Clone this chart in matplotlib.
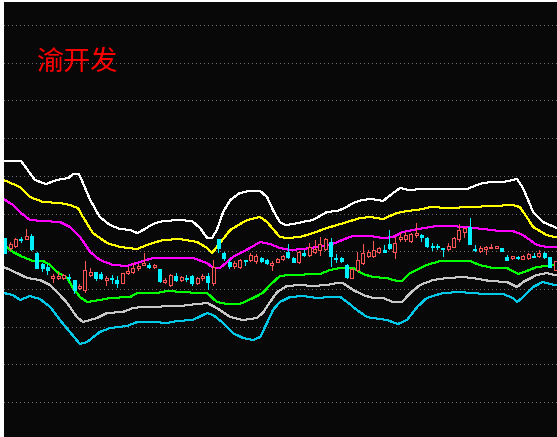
import matplotlib
matplotlib.use("Agg")
import matplotlib.pyplot as plt
import numpy as np

title = "渝开发"

# daily candles: open, high, low, close
opens = [5.62, 5.52, 5.54, 5.61, 5.61, 5.64, 5.47, 5.36, 5.33, 5.22,
         5.22, 5.22, 5.23, 5.20, 5.12, 5.10, 5.25, 5.28, 5.26, 5.20,
         5.22, 5.20, 5.17, 5.27, 5.28, 5.32, 5.35, 5.35, 5.33, 5.31,
         5.18, 5.15, 5.24, 5.20, 5.22, 5.24, 5.17, 5.22, 5.24, 5.17,
         5.61, 5.47, 5.38, 5.34, 5.33, 5.40, 5.40, 5.39, 5.42, 5.40,
         5.35, 5.38, 5.41, 5.48, 5.42, 5.38, 5.47, 5.45, 5.48, 5.50,
         5.51, 5.58, 5.42, 5.42, 5.35, 5.22, 5.30, 5.37, 5.44, 5.44,
         5.48, 5.50, 5.56, 5.48, 5.61, 5.61, 5.59, 5.65, 5.65, 5.62,
         5.54, 5.54, 5.52, 5.51, 5.53, 5.61, 5.68, 5.73, 5.51, 5.49,
         5.51, 5.52, 5.52, 5.52, 5.43, 5.42, 5.43, 5.41, 5.42, 5.44,
         5.44, 5.47, 5.43, 5.30]
highs = [5.62, 5.58, 5.62, 5.63, 5.71, 5.66, 5.48, 5.37, 5.36, 5.26,
         5.28, 5.26, 5.26, 5.20, 5.16, 5.39, 5.32, 5.28, 5.28, 5.24,
         5.25, 5.24, 5.27, 5.33, 5.37, 5.36, 5.47, 5.37, 5.36, 5.31,
         5.22, 5.26, 5.27, 5.24, 5.25, 5.25, 5.23, 5.26, 5.27, 5.40,
         5.61, 5.48, 5.40, 5.39, 5.41, 5.40, 5.47, 5.46, 5.43, 5.41,
         5.39, 5.42, 5.45, 5.56, 5.43, 5.49, 5.50, 5.57, 5.60, 5.63,
         5.62, 5.62, 5.46, 5.43, 5.36, 5.32, 5.48, 5.56, 5.50, 5.59,
         5.53, 5.55, 5.70, 5.63, 5.67, 5.68, 5.67, 5.77, 5.66, 5.63,
         5.57, 5.56, 5.52, 5.57, 5.63, 5.76, 5.72, 5.82, 5.55, 5.54,
         5.54, 5.56, 5.54, 5.52, 5.45, 5.44, 5.44, 5.45, 5.47, 5.47,
         5.50, 5.48, 5.43, 5.39]
lows = [5.47, 5.50, 5.53, 5.58, 5.61, 5.50, 5.32, 5.29, 5.26, 5.18,
        5.21, 5.21, 5.20, 5.07, 5.11, 5.08, 5.24, 5.20, 5.21, 5.15,
        5.17, 5.13, 5.17, 5.26, 5.27, 5.30, 5.35, 5.32, 5.32, 5.18,
        5.17, 5.14, 5.19, 5.19, 5.19, 5.15, 5.16, 5.20, 5.11, 5.15,
        5.48, 5.40, 5.32, 5.32, 5.32, 5.35, 5.39, 5.37, 5.38, 5.36,
        5.30, 5.38, 5.40, 5.42, 5.38, 5.37, 5.44, 5.44, 5.47, 5.45,
        5.50, 5.34, 5.38, 5.38, 5.22, 5.22, 5.29, 5.36, 5.43, 5.43,
        5.47, 5.48, 5.51, 5.42, 5.59, 5.59, 5.58, 5.63, 5.59, 5.53,
        5.50, 5.51, 5.44, 5.50, 5.53, 5.59, 5.63, 5.56, 5.49, 5.48,
        5.46, 5.52, 5.52, 5.49, 5.40, 5.41, 5.41, 5.41, 5.41, 5.43,
        5.43, 5.42, 5.33, 5.30]
closes = [5.47, 5.56, 5.61, 5.60, 5.64, 5.51, 5.32, 5.32, 5.30, 5.24,
          5.24, 5.25, 5.22, 5.10, 5.14, 5.30, 5.28, 5.22, 5.22, 5.22,
          5.21, 5.17, 5.27, 5.29, 5.32, 5.34, 5.37, 5.33, 5.35, 5.19,
          5.20, 5.25, 5.20, 5.23, 5.21, 5.17, 5.22, 5.24, 5.18, 5.33,
          5.52, 5.42, 5.34, 5.37, 5.40, 5.39, 5.45, 5.44, 5.39, 5.37,
          5.37, 5.41, 5.44, 5.43, 5.38, 5.48, 5.45, 5.53, 5.51, 5.56,
          5.61, 5.44, 5.41, 5.39, 5.23, 5.31, 5.40, 5.47, 5.48, 5.50,
          5.52, 5.48, 5.52, 5.57, 5.63, 5.65, 5.66, 5.67, 5.63, 5.54,
          5.53, 5.53, 5.51, 5.54, 5.62, 5.70, 5.72, 5.56, 5.50, 5.52,
          5.53, 5.53, 5.54, 5.49, 5.40, 5.44, 5.42, 5.44, 5.46, 5.43,
          5.47, 5.43, 5.33, 5.39]

# band lines, sampled along the bar index
white_x = [-0.2, 3.05, 5.67, 7.7, 9.8, 11.9, 12.8, 13.9, 14.65, 16.0, 17.8, 19.7, 21.6,
           23.45, 24.8, 25.9, 27.75, 29.6, 32.8, 35.05, 36.55, 37.9, 38.8, 39.7, 40.9,
           42.2, 44.0, 45.7, 47.8, 49.1, 50.2, 51.5, 52.5, 54.0, 56.6, 57.7, 60.3, 62.2,
           63.7, 65.2, 66.9, 68.7, 70.8, 72.7, 74.0, 75.5, 78.3, 84.7, 86.5, 88.4, 89.5,
           91.4, 93.3, 95.9, 97.0, 98.9, 100.7, 102.9, 104.5]
white_y = [6.39, 6.39, 6.20, 6.16, 6.20, 6.22, 6.26, 6.26, 6.17, 6.00, 5.83, 5.75, 5.71,
           5.70, 5.67, 5.70, 5.76, 5.79, 5.80, 5.79, 5.72, 5.62, 5.62, 5.70, 5.88,
           6.00, 6.07, 6.09, 6.09, 6.03, 5.90, 5.78, 5.75, 5.76, 5.79, 5.80, 5.88, 5.89,
           5.92, 5.97, 6.00, 6.01, 5.99, 6.07, 6.12, 6.10, 6.11, 6.11, 6.11, 6.15, 6.17,
           6.18, 6.18, 6.21, 6.12, 5.88, 5.78, 5.73, 5.70]

yellow_x = [-0.2, 2.86, 4.7, 7.2, 10.35, 12.2, 13.7, 14.65, 16.5, 19.15, 21.6, 24.8,
            26.6, 29.6, 32.8, 36.0, 37.9, 38.8, 39.7, 42.2, 45.35, 47.8, 49.1, 51.5,
            52.8, 55.3, 57.7, 60.3, 64.1, 66.5, 68.4, 70.8, 73.4, 75.3, 78.3, 79.6,
            83.3, 87.1, 91.4, 95.1, 96.4, 97.7, 98.9, 101.4, 102.9, 104.5]
yellow_y = [6.20, 6.13, 6.03, 5.98, 5.97, 5.95, 5.92, 5.83, 5.67, 5.57, 5.53, 5.51,
            5.55, 5.60, 5.61, 5.58, 5.52, 5.47, 5.53, 5.70, 5.80, 5.83, 5.78, 5.63,
            5.62, 5.63, 5.67, 5.72, 5.78, 5.82, 5.83, 5.81, 5.87, 5.89, 5.91, 5.93,
            5.92, 5.93, 5.94, 5.95, 5.93, 5.83, 5.73, 5.65, 5.63, 5.63]

magenta_x = [-0.2, 1.55, 2.86, 4.7, 7.2, 10.35, 12.2, 14.1, 16.0, 17.8, 20.3, 22.9,
             25.3, 27.75, 32.8, 35.2, 37.9, 39.0, 40.3, 42.7, 45.9, 47.8, 49.65, 51.5,
             53.4, 55.8, 58.4, 60.9, 64.1, 65.2, 68.4, 70.8, 72.7, 74.5, 76.4, 80.9,
             82.8, 86.5, 89.5, 92.7, 95.1, 97.0, 99.6, 101.4, 102.9, 104.5]
magenta_y = [6.01, 5.95, 5.88, 5.80, 5.79, 5.78, 5.73, 5.63, 5.48, 5.40, 5.35, 5.34,
             5.38, 5.42, 5.42, 5.42, 5.37, 5.32, 5.32, 5.43, 5.52, 5.58, 5.56, 5.52,
             5.50, 5.51, 5.53, 5.55, 5.62, 5.64, 5.64, 5.62, 5.63, 5.68, 5.70, 5.74,
             5.74, 5.73, 5.71, 5.69, 5.69, 5.65, 5.55, 5.53, 5.53, 5.53]

green_x = [-0.2, 1.55, 3.4, 5.3, 7.2, 8.5, 9.8, 11.7, 12.8, 14.1, 15.4, 17.8, 19.7,
           23.45, 24.8, 28.5, 30.4, 33.4, 36.0, 37.9, 39.7, 41.6, 44.0, 46.5, 48.3,
           49.65, 51.5, 53.4, 59.0, 60.9, 62.8, 65.2, 67.1, 68.9, 71.5, 73.4, 74.4,
           75.9, 79.0, 81.5, 87.1, 88.9, 91.4, 94.0, 95.1, 96.1, 97.7, 99.6, 102.9, 104.5]
green_y = [5.55, 5.48, 5.43, 5.39, 5.39, 5.35, 5.28, 5.22, 5.12, 5.03, 4.98, 5.00, 5.02,
           5.03, 5.07, 5.07, 5.09, 5.08, 5.07, 5.07, 4.98, 4.96, 4.96, 5.02, 5.07,
           5.15, 5.24, 5.25, 5.26, 5.30, 5.32, 5.32, 5.26, 5.23, 5.22, 5.19, 5.19,
           5.27, 5.35, 5.39, 5.39, 5.35, 5.32, 5.32, 5.29, 5.26, 5.29, 5.33, 5.35, 5.35]

gray_x = [-0.2, 2.3, 4.2, 6.6, 8.5, 9.8, 11.7, 13.5, 14.65, 17.3, 19.15, 22.1, 24.0,
          25.9, 32.8, 36.0, 37.9, 39.7, 42.2, 44.6, 47.2, 48.3, 49.65, 51.0, 52.8,
          55.3, 57.7, 60.3, 62.2, 63.3, 65.2, 67.1, 68.9, 70.8, 72.7, 74.4, 75.9,
          77.7, 80.2, 82.8, 85.8, 87.6, 90.8, 94.0, 95.9, 97.0, 99.6, 101.4, 102.9, 104.5]
gray_y = [5.33, 5.27, 5.22, 5.20, 5.15, 5.08, 4.97, 4.83, 4.78, 4.82, 4.87, 4.88, 4.92,
          4.93, 4.94, 4.96, 4.97, 4.92, 4.83, 4.80, 4.82, 4.87, 4.98, 5.08, 5.14,
          5.15, 5.14, 5.15, 5.17, 5.17, 5.10, 5.05, 5.02, 5.02, 4.98, 4.98, 5.07,
          5.15, 5.20, 5.22, 5.23, 5.22, 5.19, 5.18, 5.13, 5.18, 5.25, 5.27, 5.25, 5.25]

cyan_x = [-0.2, 1.55, 2.86, 4.7, 6.6, 8.5, 10.35, 12.2, 14.1, 15.4, 17.8, 19.7, 22.9,
          24.8, 27.75, 30.4, 32.2, 35.2, 37.9, 39.0, 40.9, 42.7, 44.6, 46.5, 47.8,
          49.1, 50.2, 51.5, 53.4, 55.8, 58.4, 60.9, 62.8, 64.1, 65.9, 67.8, 68.9,
          71.5, 73.6, 75.3, 77.2, 79.0, 82.0, 85.2, 87.1, 90.3, 93.3, 95.1, 95.9,
          97.0, 98.9, 100.7, 102.9, 104.5]
cyan_y = [5.07, 5.05, 5.00, 5.04, 5.01, 4.93, 4.80, 4.68, 4.56, 4.58, 4.68, 4.72, 4.74,
          4.78, 4.78, 4.77, 4.79, 4.80, 4.87, 4.85, 4.77, 4.67, 4.62, 4.60, 4.63,
          4.77, 4.90, 4.98, 5.03, 5.04, 5.02, 5.03, 5.03, 4.98, 4.90, 4.83, 4.82,
          4.80, 4.76, 4.80, 4.93, 5.02, 5.07, 5.08, 5.07, 5.06, 5.06, 5.02, 4.98,
          5.03, 5.13, 5.18, 5.15, 5.15]

BG = "#080808"
UP = "#FF5555"
DOWN = "#00F0FF"
LW = 0.72  # one pixel at 100 dpi

W, H = 557, 437
fig = plt.figure(figsize=(W / 100, H / 100), dpi=100, facecolor="white")
ax = fig.add_axes([4 / W, 0, (W - 4) / W, (H - 2) / H])
ax.set_facecolor(BG)
ax.set_xlim(-0.13, 103.37)
ax.set_ylim(3.63, 7.98)
for s in ax.spines.values():
    s.set_visible(False)
ax.set_xticks([])
ax.set_yticks([])

# dotted horizontal grid
for lvl in 7.75 - 0.377 * np.arange(11):
    ax.axhline(lvl, color="#6E6E6E", lw=LW, linestyle=(0, (1, 3)), zorder=1,
               antialiased=False)

# band lines
for xs, ys, col in [(white_x, white_y, "#FFFFFF"),
                    (yellow_x, yellow_y, "#FFFF00"),
                    (magenta_x, magenta_y, "#FF00FF"),
                    (green_x, green_y, "#00FF00"),
                    (gray_x, gray_y, "#C8C8C8"),
                    (cyan_x, cyan_y, "#00C8E8")]:
    ax.plot(xs, ys, color=col, lw=LW, zorder=2, antialiased=False)

# candles
o = np.array(opens); h = np.array(highs); l = np.array(lows); c = np.array(closes)
idx = np.arange(len(o))
up = c >= o
body_w = 0.56
for i in idx:
    col = UP if up[i] else DOWN
    ax.vlines(i, l[i], h[i], color=col, lw=LW, zorder=3, antialiased=False)
    bottom = min(o[i], c[i])
    height = max(abs(c[i] - o[i]), 0.004)
    face = BG if up[i] else DOWN
    ax.bar(i, height, bottom=bottom, width=body_w, facecolor=face, edgecolor=col,
           linewidth=LW, zorder=4, antialiased=False)

ax.text(0.06, 0.862, title, transform=ax.transAxes, color="#FF0000", fontsize=19.5,
        family=["Noto Sans CJK SC", "DejaVu Sans"], va="center", ha="left")

fig.savefig("out.png", dpi=100, facecolor="white")
